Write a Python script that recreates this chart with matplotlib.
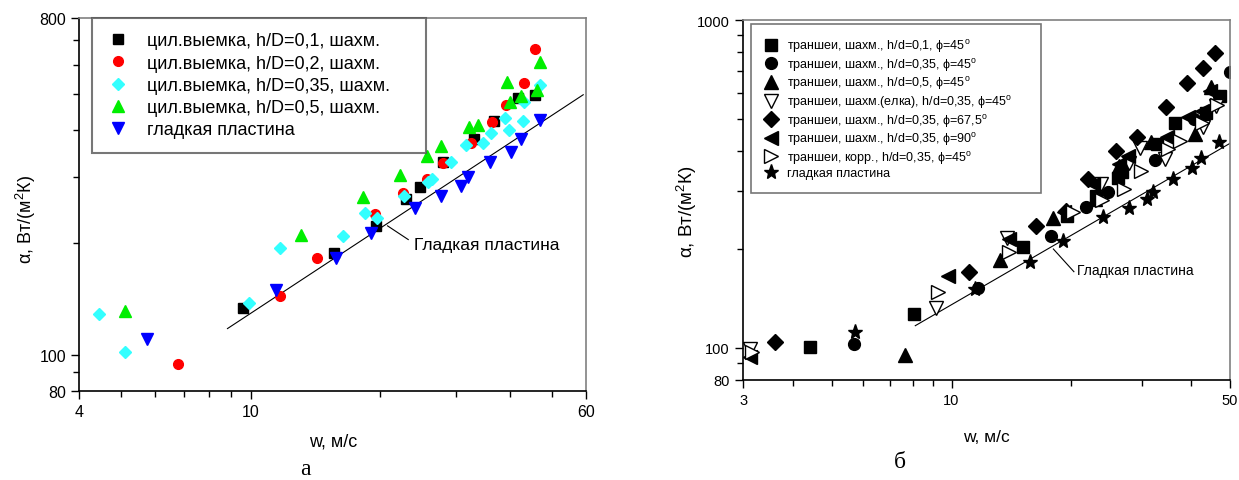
import matplotlib
matplotlib.use("Agg")
import matplotlib.pyplot as plt
from matplotlib.ticker import NullFormatter, FixedFormatter

plt.rcParams['font.family'] = ['Liberation Sans', 'DejaVu Sans']
plt.rcParams['mathtext.fontset'] = 'custom'
plt.rcParams['mathtext.rm'] = 'Liberation Sans'
plt.rcParams['mathtext.it'] = 'Liberation Sans:italic'

# ---- panel a: cylindrical dimples ----
a_sq_w = [9.59, 15.59, 19.49, 22.94, 24.76, 28.01, 32.91, 36.68, 41.67, 45.74]
a_sq_y = [133.6, 187.6, 221.6, 262.8, 282.4, 328.2, 379.0, 424.5, 487.3, 496.4]
a_ci_w = [6.77, 11.71, 14.21, 19.45, 22.51, 25.67, 27.95, 32.43, 36.37, 39.17, 43.00, 45.64]
a_ci_y = [94.7, 144.1, 182.6, 238.5, 272.7, 296.1, 326.9, 369.8, 420.2, 467.7, 535.6, 659.3]
a_di_w = [4.44, 5.11, 9.90, 11.71, 16.41, 18.44, 19.65, 22.70, 25.83, 26.33, 29.10, 31.54,
          34.55, 36.14, 39.00, 39.75, 42.82, 43.00, 47.01]
a_di_y = [128.7, 102.2, 137.7, 193.4, 207.9, 240.5, 233.7, 267.2, 291.2, 296.1, 329.6, 365.9,
          369.8, 393.3, 430.6, 402.2, 424.5, 475.3, 529.1]
a_tr_w = [5.12, 13.05, 18.24, 22.23, 25.62, 27.71, 32.02, 33.69, 39.33, 39.91, 42.46, 46.12, 46.81]
a_tr_y = [131.6, 209.6, 265.6, 304.1, 342.0, 363.7, 409.0, 414.1, 540.0, 475.3, 493.3, 514.0, 608.4]
a_sm_w = [5.73, 11.44, 15.73, 18.99, 24.09, 27.71, 30.75, 31.94, 35.98, 40.26, 42.27, 46.91]
a_sm_y = [110.8, 149.5, 182.2, 212.2, 247.1, 266.1, 283.6, 299.2, 328.2, 349.1, 379.0, 427.1]
a_line_w = [8.83, 59.1]
a_line_y = [117.8, 498.4]
a_labels = ['цил.выемка, h/D=0,1, шахм.', 'цил.выемка, h/D=0,2, шахм.',
            'цил.выемка, h/D=0,35, шахм.', 'цил.выемка, h/D=0,5, шахм.',
            'гладкая пластина']

# ---- panel b: trenches ----
b_sq_w = [4.42, 8.05, 15.08, 19.50, 22.98, 26.17, 26.79, 32.73, 36.43, 43.52, 47.13]
b_sq_y = [100.4, 126.9, 202.7, 253.1, 291.2, 329.8, 343.3, 418.7, 485.3, 520.4, 587.7]
b_ci_w = [5.69, 11.65, 17.77, 21.72, 24.72, 32.36, 40.65, 46.83, 50.0]
b_ci_y = [102.8, 152.6, 219.0, 268.5, 298.3, 375.0, 499.0, 587.7, 692.7]
b_tu_w = [7.66, 13.21, 18.01, 22.87, 26.36, 31.64, 40.93, 44.74]
b_tu_y = [95.1, 185.8, 249.0, 284.5, 359.5, 425.5, 449.2, 623.5]
b_td_w = [3.13, 9.13, 13.76, 23.69, 27.91, 29.74, 34.26, 42.86, 46.08]
b_td_y = [99.2, 132.1, 215.9, 316.2, 365.6, 407.0, 376.9, 470.8, 547.9]
b_di_w = [3.61, 11.08, 16.33, 19.37, 22.06, 25.89, 29.21, 34.50, 39.02, 42.86, 45.87]
b_di_y = [104.5, 170.8, 235.9, 262.1, 327.5, 397.8, 440.7, 544.0, 641.2, 713.9, 793.0]
b_tl_w = [3.13, 9.82, 13.92, 19.16, 22.62, 26.36, 27.78, 34.66, 39.29, 42.56, 44.53]
b_tl_y = [93.6, 165.4, 214.8, 259.2, 316.2, 363.8, 384.1, 438.9, 505.0, 528.9, 608.6]
b_tr_w = [3.16, 9.24, 13.92, 20.18, 23.89, 27.15, 29.88, 34.94, 37.37, 42.56, 46.30]
b_tr_y = [97.4, 147.7, 195.7, 259.2, 283.1, 305.2, 347.1, 404.2, 428.5, 485.3, 550.6]
b_st_w = [5.72, 11.47, 15.78, 19.03, 24.06, 27.91, 30.91, 31.99, 35.86, 40.19, 42.26, 46.93]
b_st_y = [111.6, 151.2, 182.4, 211.4, 250.2, 266.7, 284.5, 299.5, 327.5, 353.0, 378.6, 423.7]
b_line_w = [8.11, 50.0]
b_line_y = [116.9, 420.8]
deg = r'$^\mathrm{o}$'
b_labels = ['траншеи, шахм., h/d=0,1, ϕ=45' + deg,
            'траншеи, шахм., h/d=0,35, ϕ=45' + deg,
            'траншеи, шахм., h/d=0,5, ϕ=45' + deg,
            'траншеи, шахм.(елка), h/d=0,35, ϕ=45' + deg,
            'траншеи, шахм., h/d=0,35, ϕ=67,5' + deg,
            'траншеи, шахм., h/d=0,35, ϕ=90' + deg,
            'траншеи, корр., h/d=0,35, ϕ=45' + deg,
            'гладкая пластина']

fig = plt.figure(figsize=(12.39, 4.81), dpi=100)
ax1 = fig.add_axes([0.0640, 0.1844, 0.4090, 0.7760])
ax2 = fig.add_axes([0.5998, 0.2085, 0.3930, 0.7478])


def style_axes(ax, xmaj, xmin, ymaj, ymin, fs):
    ax.set_xscale('log')
    ax.set_yscale('log')
    ax.set_xticks(xmaj)
    ax.set_xticks(xmin, minor=True)
    ax.set_yticks(ymaj)
    ax.set_yticks(ymin, minor=True)
    ax.xaxis.set_major_formatter(FixedFormatter([str(v) for v in xmaj]))
    ax.yaxis.set_major_formatter(FixedFormatter([str(v) for v in ymaj]))
    ax.xaxis.set_minor_formatter(NullFormatter())
    ax.yaxis.set_minor_formatter(NullFormatter())
    ax.tick_params(which='both', direction='out', top=False, right=False,
                   labelsize=fs, colors='black', width=1.0)
    ax.tick_params(which='major', length=6)
    ax.tick_params(which='minor', length=4)
    for s in ['top', 'right']:
        ax.spines[s].set_color('#808080')
        ax.spines[s].set_linewidth(1.2)
    for s in ['left', 'bottom']:
        ax.spines[s].set_linewidth(1.2)


# panel a
ax1.plot(a_line_w, a_line_y, color='black', lw=0.8)
ax1.plot(a_sq_w, a_sq_y, 's', color='black', ms=7, ls='none', label=a_labels[0])
ax1.plot(a_ci_w, a_ci_y, 'o', color='#ff0000', ms=7, ls='none', label=a_labels[1])
ax1.plot(a_di_w, a_di_y, 'D', color='#33ffff', ms=6.5, ls='none', label=a_labels[2])
ax1.plot(a_tr_w, a_tr_y, '^', color='#00ee00', ms=8, ls='none', label=a_labels[3])
ax1.plot(a_sm_w, a_sm_y, 'v', color='#0000ff', ms=8, ls='none', label=a_labels[4])
ax1.plot([20.77, 23.2], [222, 204], color='black', lw=0.8)
ax1.text(23.9, 198, 'Гладкая пластина', fontsize=12.5, va='center', ha='left')
ax1.set_xlim(4, 60)
ax1.set_ylim(80, 800)
style_axes(ax1, [4, 10, 60], [5, 6, 7, 8, 9, 20, 30, 40, 50],
           [80, 100, 800], [90, 200, 300, 400, 500, 600, 700], 11.5)
ax1.set_xlabel('w, м/с', fontsize=13, labelpad=9.5)
ax1.set_ylabel('α, Вт/(м$^2$К)', fontsize=13)
ax1.yaxis.set_label_coords(-0.0815, 0.464)
leg1 = ax1.legend(loc='upper left', bbox_to_anchor=(0.026, 0.642, 0.658, 0.358),
                  mode='expand', borderaxespad=0,
                  fontsize=13, frameon=True, fancybox=False, edgecolor='#555555',
                  handletextpad=1.0, borderpad=0.8, labelspacing=0.29, handlelength=1.2)
leg1.get_frame().set_linewidth(1.5)

# panel b
ax2.plot(b_line_w, b_line_y, color='black', lw=0.8)
ax2.plot(b_sq_w, b_sq_y, 's', color='black', ms=8, ls='none', label=b_labels[0])
ax2.plot(b_ci_w, b_ci_y, 'o', color='black', ms=8.5, ls='none', label=b_labels[1])
ax2.plot(b_tu_w, b_tu_y, '^', color='black', ms=9.5, ls='none', label=b_labels[2])
ax2.plot(b_td_w, b_td_y, 'v', mfc='white', mec='black', mew=1.0, ms=9.5, ls='none', label=b_labels[3])
ax2.plot(b_di_w, b_di_y, 'D', color='black', ms=8, ls='none', label=b_labels[4])
ax2.plot(b_tl_w, b_tl_y, '<', color='black', ms=9.5, ls='none', label=b_labels[5])
ax2.plot(b_tr_w, b_tr_y, '>', mfc='white', mec='black', mew=1.0, ms=9.5, ls='none', label=b_labels[6])
ax2.plot(b_st_w, b_st_y, '*', color='black', ms=11, ls='none', label=b_labels[7])
ax2.plot([18.01, 20.28], [200.3, 170.8], color='black', lw=0.8)
ax2.text(20.65, 173.2, 'Гладкая пластина', fontsize=10, va='center', ha='left')
ax2.set_xlim(3, 50)
ax2.set_ylim(80, 1000)
style_axes(ax2, [3, 10, 50], [4, 5, 6, 7, 8, 9, 20, 30, 40],
           [80, 100, 1000], [90, 200, 300, 400, 500, 600, 700, 800, 900], 10.5)
ax2.set_xlabel('w, м/с', fontsize=12.5, labelpad=16)
ax2.set_ylabel('α, Вт/(м$^2$К)', fontsize=13.5)
ax2.yaxis.set_label_coords(-0.09, 0.469)
leg2 = ax2.legend(loc='upper left', bbox_to_anchor=(0.017, 0.523, 0.594, 0.466),
                  mode='expand', borderaxespad=0,
                  fontsize=9, frameon=True, fancybox=False, edgecolor='#555555',
                  handletextpad=0.8, borderpad=1.05, labelspacing=0.13, handlelength=1.0)
leg2.get_frame().set_linewidth(1.2)

fig.text(305 / 1239, 1 - 470 / 481, 'а', fontsize=17, family='Liberation Serif',
         ha='center', va='center')
fig.text(900 / 1239, 1 - 462 / 481, 'б', fontsize=17, family='Liberation Serif',
         ha='center', va='center')

fig.savefig('out.png', dpi=100)
